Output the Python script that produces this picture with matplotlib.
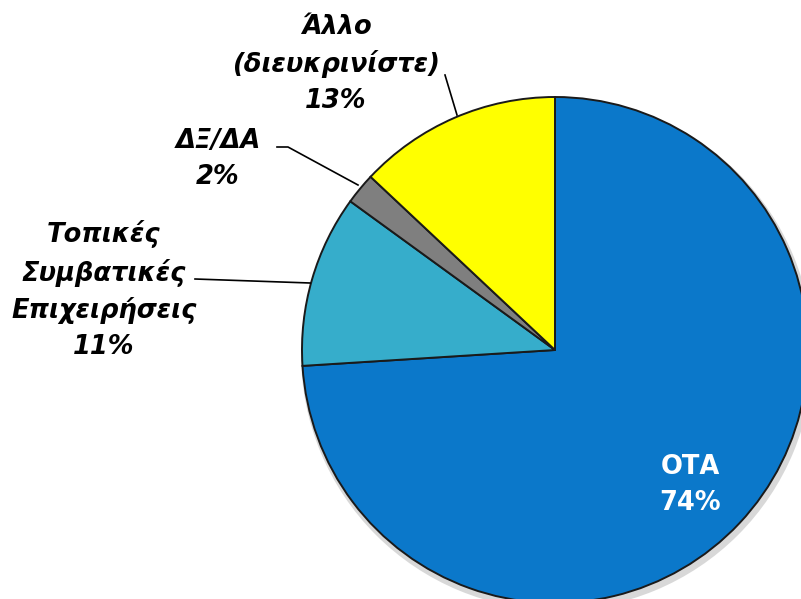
import matplotlib.pyplot as plt

labels = ["ΟΤΑ", "Τοπικές\nΣυμβατικές\nΕπιχειρήσεις", "ΔΞ/ΔΑ", "Άλλο\n(διευκρινίστε)"]
shares = [74, 11, 2, 13]
colors = ["#0B78CA", "#36ADCB", "#7F7F7F", "#FFFF00"]

W, H = 801, 599


def px(x, y):
    # image pixel coords (y down) -> data coords (y up)
    return x, H - y


fig = plt.figure(figsize=(W / 100, H / 100), dpi=100)
ax = fig.add_axes([0, 0, 1, 1])

cx, cy = px(555, 350)
r = 253

# soft shadow
ax.pie([1], radius=r + 3, center=(cx + 2, cy - 4), colors=["#c8c8c8"],
       wedgeprops=dict(linewidth=0, alpha=0.7), frame=True)
ax.pie(
    shares, radius=r, center=(cx, cy), colors=colors,
    startangle=90, counterclock=False, frame=True,
    wedgeprops=dict(edgecolor="#1a1a1a", linewidth=1.4),
)
ax.set_xlim(0, W)
ax.set_ylim(0, H)
ax.set_aspect("equal")
ax.axis("off")

font = dict(family="DejaVu Sans", fontweight="bold", fontstyle="italic",
            fontsize=18.5, color="black", ha="center", va="center",
            linespacing=1.5)

# ΟΤΑ inside
ax.text(*px(690, 485), f"{labels[0]}\n{shares[0]}%",
        **{**font, "color": "white", "fontstyle": "normal"})

# Τοπικές Συμβατικές Επιχειρήσεις
ax.text(*px(104, 290), f"{labels[1]}\n{shares[1]}%", **font)
ax.plot(*zip(px(195, 279), px(310, 283)), color="black", lw=1.2)

# ΔΞ/ΔΑ
ax.text(*px(218, 159), f"{labels[2]}\n{shares[2]}%", **font)
ax.plot(*zip(px(277, 147), px(288, 147), px(358, 185)), color="black", lw=1.2)

# Άλλο
ax.text(*px(336, 64), f"{labels[3]}\n{shares[3]}%", **font)
ax.plot(*zip(px(445, 75), px(457, 115)), color="black", lw=1.2)

fig.savefig("out.png", dpi=100)
